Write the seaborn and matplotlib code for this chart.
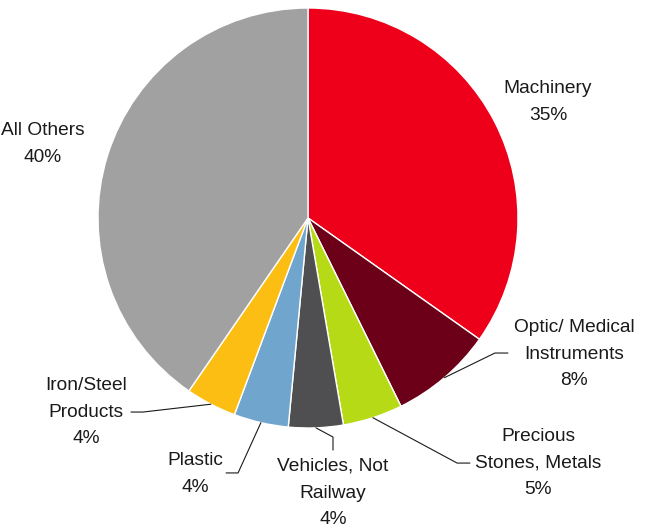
"""Pie chart of export shares by product group."""

import matplotlib

matplotlib.use("Agg")

import matplotlib.pyplot as plt
import numpy as np
import seaborn as sns

# data (clockwise from 12 o'clock)
categories = [
    "Machinery",
    "Optic/ Medical\nInstruments",
    "Precious\nStones, Metals",
    "Vehicles, Not\nRailway",
    "Plastic",
    "Iron/Steel\nProducts",
    "All Others",
]
shares = [34.8, 7.9, 4.6, 4.2, 4.2, 3.9, 40.4]
pct_labels = ["35%", "8%", "5%", "4%", "4%", "4%", "40%"]

colors = ["#EE001B", "#6C0019", "#B6DB16", "#4F4E50", "#70A6CE", "#FDBE13", "#A1A1A1"]

# label layout (data units, pie radius = 1): text centre, elbow, line end
label_layout = [
    {"text": (1.143, 0.552), "elbow": None, "end": None},
    {"text": (1.267, -0.648), "elbow": (0.890, -0.643), "end": (0.952, -0.643)},
    {"text": (1.095, -1.167), "elbow": (0.710, -1.167), "end": (0.771, -1.167)},
    {"text": (0.119, -1.310), "elbow": (0.119, -1.043), "end": (0.119, -1.105)},
    {"text": (-0.538, -1.219), "elbow": (-0.333, -1.214), "end": (-0.390, -1.214)},
    {"text": (-1.057, -0.924), "elbow": (-0.786, -0.924), "end": (-0.843, -0.924)},
    {"text": (-1.262, 0.352), "elbow": None, "end": None},
]

sns.set_theme(style="white")
plt.rcParams["font.family"] = ["Liberation Sans", "DejaVu Sans"]

fig = plt.figure(figsize=(6.53, 5.29), dpi=100)
ax = fig.add_axes([0, 0, 1, 1])

wedges, _ = ax.pie(
    shares,
    colors=colors,
    startangle=90,
    counterclock=False,
    radius=1.0,
    wedgeprops={"edgecolor": "white", "linewidth": 1.0},
)

for wedge, name, pct, lay in zip(wedges, categories, pct_labels, label_layout):
    ax.text(
        lay["text"][0],
        lay["text"][1],
        f"{name}\n{pct}",
        ha="center",
        va="center",
        multialignment="center",
        fontsize=13.8,
        color="#1A1A1A",
        linespacing=1.75,
    )
    if lay["elbow"] is not None:
        mid = np.deg2rad((wedge.theta1 + wedge.theta2) / 2)
        start = (np.cos(mid), np.sin(mid))
        xs = [start[0], lay["elbow"][0], lay["end"][0]]
        ys = [start[1], lay["elbow"][1], lay["end"][1]]
        ax.plot(xs, ys, color="#1A1A1A", linewidth=0.8)

ax.set_xlim(-308 / 210, 345 / 210)
ax.set_ylim(-311 / 210, 218 / 210)
ax.set_aspect("equal")
ax.axis("off")

fig.savefig("out.png", dpi=100)
plt.close(fig)
